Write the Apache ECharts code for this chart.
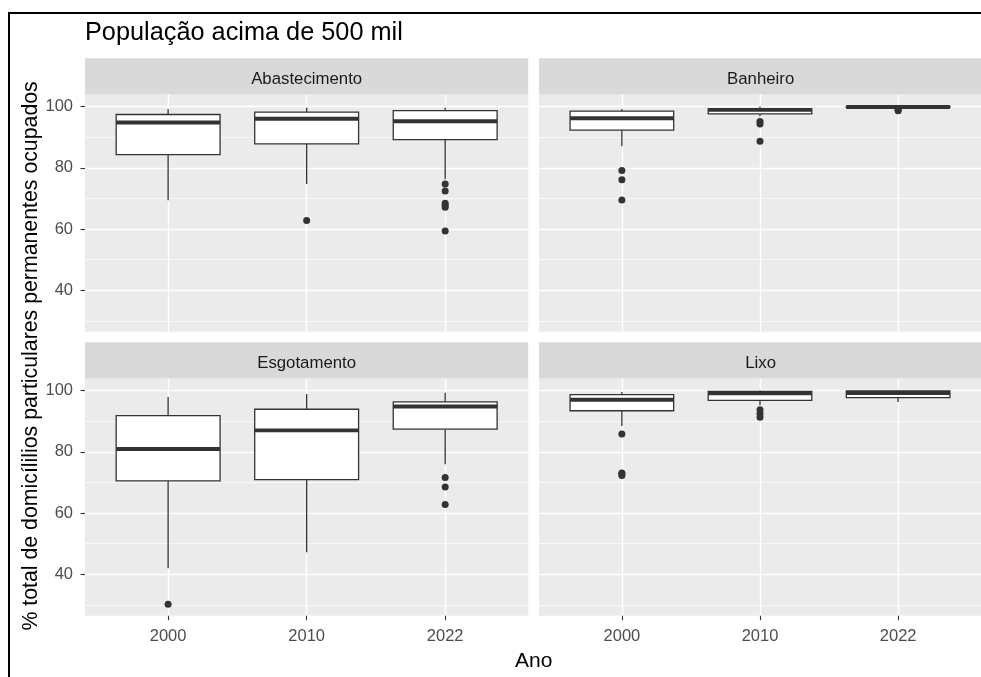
<!DOCTYPE html>
<html><head><meta charset="utf-8">
<script src="https://cdn.jsdelivr.net/npm/echarts@6/dist/echarts.min.js"></script>
<style>html,body{margin:0;padding:0;background:#fff}#c{width:981px;height:677px}</style>
</head><body><div id="c"></div>
<script>
// ---- data ----
const anos = ['2000', '2010', '2022'];
const paineis = ['Abastecimento', 'Banheiro', 'Esgotamento', 'Lixo'];
const yTicks = [40, 60, 80, 100];
const yMinor = [30, 50, 70, 90];
// box stats per year: [min, q1, median, q3, max]
const abastecimentoBox = [[69.4, 84.3, 94.8, 97.4, 99.2], [74.7, 87.8, 96.0, 98.2, 99.6], [76.3, 89.2, 95.2, 98.7, 99.6]];
const abastecimentoOut = [[], [62.8], [74.7, 72.4, 68.4, 67.8, 67.1, 59.4]];
const banheiroBox = [[87.0, 92.3, 96.2, 98.5, 99.2], [96.8, 97.6, 98.9, 99.3, 100.0], [99.5, 99.7, 99.85, 99.95, 100.0]];
const banheiroOut = [[79.1, 76.1, 69.5], [95.1, 94.3, 88.7], [99.3, 98.9, 98.6]];
const esgotamentoBox = [[42.0, 70.5, 80.9, 91.8, 97.9], [47.2, 70.9, 87.0, 93.9, 98.9], [75.9, 87.4, 94.8, 96.3, 99.3]];
const esgotamentoOut = [[30.2], [], [71.6, 68.5, 62.8]];
const lixoBox = [[88.4, 93.4, 97.0, 98.7, 99.5], [95.2, 96.8, 99.1, 99.7, 100.0], [96.3, 97.7, 99.2, 99.9, 100.0]];
const lixoOut = [[85.8, 73.1, 72.8, 72.3], [93.7, 92.5, 91.3], []];

const boxes = [abastecimentoBox, banheiroBox, esgotamentoBox, lixoBox];
const outs = [abastecimentoOut, banheiroOut, esgotamentoOut, lixoOut];

// ---- layout ----
const FONT = "'Liberation Sans', Arial, sans-serif";
const PX = [85, 539];
const PW = 443.3;
const STRIP_TOP = [58.3, 342.3];
const STRIP_H = 36.3;
const PANEL_H = 237.1;
const Y_MIN = 26.5, Y_MAX = 103.9;
const INK = '#333333';

function renderBox(params, api) {
  const x = api.value(0);
  const bw = api.size([1, 0])[0] * 0.75;
  const pMin = api.coord([x, api.value(1)]);
  const pQ1 = api.coord([x, api.value(2)]);
  const pMed = api.coord([x, api.value(3)]);
  const pQ3 = api.coord([x, api.value(4)]);
  const pMax = api.coord([x, api.value(5)]);
  const cx = pMed[0];
  return {
    type: 'group',
    children: [
      { type: 'line', shape: { x1: cx, y1: pQ3[1], x2: cx, y2: pMax[1] }, style: { stroke: INK, lineWidth: 1.3 } },
      { type: 'line', shape: { x1: cx, y1: pQ1[1], x2: cx, y2: pMin[1] }, style: { stroke: INK, lineWidth: 1.3 } },
      { type: 'rect', shape: { x: cx - bw / 2, y: pQ3[1], width: bw, height: pQ1[1] - pQ3[1] }, style: { fill: '#ffffff', stroke: INK, lineWidth: 1.3 } },
      { type: 'line', shape: { x1: cx - bw / 2, y1: pMed[1], x2: cx + bw / 2, y2: pMed[1] }, style: { stroke: INK, lineWidth: 3.9 } }
    ]
  };
}

const grids = [], xAxes = [], yAxes = [], series = [], graphics = [];

graphics.push({ type: 'rect', silent: true, z: 0, shape: { x: 9, y: 13, width: 1000, height: 700 }, style: { fill: 'none', stroke: '#000', lineWidth: 2 } });
graphics.push({ type: 'text', x: 85, y: 33.4, style: { text: 'População acima de 500 mil', fontSize: 25.3, fontFamily: FONT, fill: '#000', textAlign: 'left', textVerticalAlign: 'middle', align: 'left', verticalAlign: 'middle' } });
graphics.push({ type: 'text', x: 533.7, y: 661.3, style: { text: 'Ano', fontSize: 21, fontFamily: FONT, fill: '#000', textAlign: 'center', textVerticalAlign: 'middle', align: 'center', verticalAlign: 'middle' } });
graphics.push({ type: 'text', x: 31.3, y: 355.9, rotation: Math.PI / 2, style: { text: '% total de domicílilios particulares permanentes ocupados', fontSize: 21.3, fontFamily: FONT, fill: '#000', textAlign: 'center', textVerticalAlign: 'middle', align: 'center', verticalAlign: 'middle' } });

paineis.forEach((nome, i) => {
  const col = i % 2, row = Math.floor(i / 2);
  const left = PX[col], stripTop = STRIP_TOP[row];
  graphics.push({ type: 'rect', silent: true, shape: { x: left, y: stripTop, width: PW, height: STRIP_H }, style: { fill: '#D9D9D9' } });
  graphics.push({ type: 'text', x: left + PW / 2, y: stripTop + STRIP_H / 2 + 2.5, style: { text: nome, fontSize: 16.8, fontFamily: FONT, fill: '#1A1A1A', textAlign: 'center', textVerticalAlign: 'middle', align: 'center', verticalAlign: 'middle' } });

  grids.push({ left: left, top: stripTop + STRIP_H, width: PW, height: PANEL_H, show: true, backgroundColor: '#EBEBEB', borderWidth: 0, containLabel: false });

  xAxes.push({
    type: 'value', gridIndex: i, min: 0.4, max: 3.6,
    axisLine: { show: false },
    axisTick: { show: row === 1, customValues: [1, 2, 3], length: 4.5, lineStyle: { color: INK, width: 1.1 } },
    axisLabel: { show: row === 1, customValues: [1, 2, 3], formatter: v => anos[Math.round(v) - 1], color: '#4D4D4D', fontSize: 16.5, fontFamily: FONT, margin: 12 },
    splitLine: { show: true, lineStyle: { color: '#ffffff', width: 1.4 } }
  });
  yAxes.push({
    type: 'value', gridIndex: i, min: Y_MIN, max: Y_MAX, position: 'left',
    axisLine: { show: false },
    axisTick: { show: col === 0, customValues: yTicks, length: 4.5, lineStyle: { color: INK, width: 1.1 } },
    axisLabel: { show: col === 0, customValues: yTicks, color: '#4D4D4D', fontSize: 16.5, fontFamily: FONT, margin: 12 },
    splitLine: { show: true, lineStyle: { color: '#ffffff', width: 1.4 } }
  });
  yAxes.push({
    type: 'value', gridIndex: i, min: Y_MIN, max: Y_MAX, position: 'left',
    axisLine: { show: false },
    axisTick: { show: false, customValues: yMinor },
    axisLabel: { show: false, customValues: yMinor },
    splitLine: { show: true, lineStyle: { color: '#ffffff', width: 0.7 } }
  });

  series.push({
    type: 'custom', xAxisIndex: i, yAxisIndex: i * 2, renderItem: renderBox,
    encode: { x: 0, y: [1, 2, 3, 4, 5] },
    data: boxes[i].map((s, j) => [j + 1].concat(s)),
    z: 3, silent: true
  });
  const pts = [];
  outs[i].forEach((arr, j) => arr.forEach(v => pts.push([j + 1, v])));
  series.push({
    type: 'scatter', xAxisIndex: i, yAxisIndex: i * 2, data: pts,
    symbol: 'circle', symbolSize: 7, itemStyle: { color: INK, opacity: 1 }, z: 4, silent: true
  });
});

const chart = echarts.init(document.getElementById('c'), null, { renderer: 'canvas' });
chart.setOption({
  animation: false,
  backgroundColor: '#ffffff',
  textStyle: { fontFamily: FONT },
  grid: grids, xAxis: xAxes, yAxis: yAxes, series: series, graphic: graphics
});
</script></body></html>
